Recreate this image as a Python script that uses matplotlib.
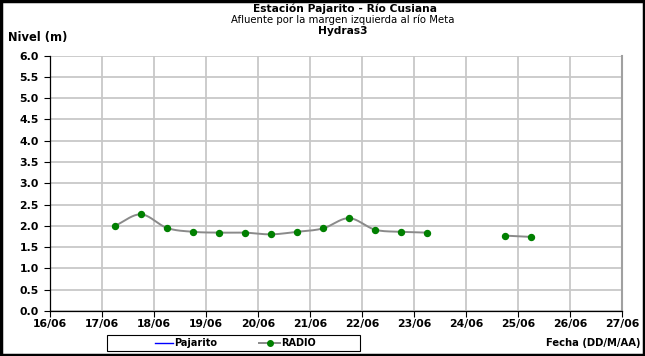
import numpy as np
import matplotlib.pyplot as plt
from matplotlib.lines import Line2D
from matplotlib.patches import Rectangle

plt.rcParams['font.family'] = ['DejaVu Sans']

# days since 16/06 (readings at 06:00 and 18:00), gaps split the series
radio_days = [
    [17.25, 17.75, 18.25, 18.75, 19.25, 19.75, 20.25, 20.75, 21.25, 21.75, 22.25, 22.75, 23.25],
    [24.75, 25.25],
]
radio_level = [
    [2.00, 2.27, 1.95, 1.86, 1.84, 1.84, 1.80, 1.86, 1.94, 2.18, 1.91, 1.86, 1.84],
    [1.77, 1.74],
]
x_ticks = list(range(16, 28))
x_labels = ["%02d/06" % d for d in x_ticks]
y_ticks = np.arange(0, 6.01, 0.5)


def smooth(x, y, n=20):
    # Catmull-Rom style smoothing, like Excel's smoothed line
    x = np.asarray(x, float)
    y = np.asarray(y, float)
    if len(x) < 3:
        return x, y
    px = np.concatenate([[2 * x[0] - x[1]], x, [2 * x[-1] - x[-2]]])
    py = np.concatenate([[2 * y[0] - y[1]], y, [2 * y[-1] - y[-2]]])
    xs, ys = [], []
    t = np.linspace(0, 1, n, endpoint=False)
    for i in range(1, len(px) - 2):
        for p, out in ((px, xs), (py, ys)):
            p0, p1, p2, p3 = p[i - 1], p[i], p[i + 1], p[i + 2]
            out.extend(0.5 * (2 * p1 + (-p0 + p2) * t
                              + (2 * p0 - 5 * p1 + 4 * p2 - p3) * t ** 2
                              + (-p0 + 3 * p1 - 3 * p2 + p3) * t ** 3))
    xs.append(x[-1])
    ys.append(y[-1])
    return np.array(xs), np.array(ys)


fig = plt.figure(figsize=(6.45, 3.56), dpi=100)
ax = fig.add_axes([0.0775, 0.1264, 0.887, 0.7177])

for xd, yd in zip(radio_days, radio_level):
    sx, sy = smooth(xd, yd)
    ax.plot(sx, sy, color="#8a8a8a", lw=1.4, zorder=3)
    ax.plot(xd, yd, 'o', color="#008000", ms=4.3, zorder=4)

ax.set_xlim(16, 27)
ax.set_ylim(0, 6)
ax.set_xticks(x_ticks)
ax.set_xticklabels(x_labels)
ax.set_yticks(y_ticks)
ax.set_yticklabels(["%.1f" % v for v in y_ticks])
ax.grid(True, color="#c8c8c8", lw=1.3)
ax.set_axisbelow(True)
ax.tick_params(labelsize=7.8, length=4, width=0.8, direction='out')
ax.tick_params(axis='y', pad=4)
ax.tick_params(axis='x', pad=1.5)
for lab in ax.get_xticklabels() + ax.get_yticklabels():
    lab.set_fontweight('bold')
ax.spines['top'].set_visible(False)
ax.spines['right'].set_color("#a0a0a0")
ax.spines['right'].set_linewidth(1.5)
ax.spines['left'].set_linewidth(0.9)
ax.spines['bottom'].set_linewidth(0.9)

fig.text(345 / 645, 1 - 8.5 / 356, "Estación Pajarito - Río Cusiana", ha='center', va='center',
         fontsize=7.7, fontweight='bold')
fig.text(343 / 645, 1 - 19.5 / 356, "Afluente por la margen izquierda al río Meta", ha='center',
         va='center', fontsize=7.3)
fig.text(343 / 645, 1 - 30.5 / 356, "Hydras3", ha='center', va='center', fontsize=7.7,
         fontweight='bold')
fig.text(8 / 645, 1 - 37 / 356, "Nivel (m)", ha='left', va='center', fontsize=8.3,
         fontweight='bold')
fig.text(641 / 645, 1 - 343 / 356, "Fecha (DD/M/AA)", ha='right', va='center', fontsize=7.2,
         fontweight='bold')

# legend drawn by hand to get Excel's wide, flat box
W, H = 645.0, 356.0
ly = 1 - 343 / H
fig.patches.append(Rectangle((107 / W, 1 - 351 / H), 253 / W, 16 / H, transform=fig.transFigure,
                             fill=True, facecolor='white', edgecolor='black', lw=0.8))
fig.add_artist(Line2D([155 / W, 173 / W], [ly, ly], color="#0000ff", lw=1,
                      transform=fig.transFigure))
fig.text(174 / W, ly, "Pajarito", ha='left', va='center', fontsize=7, fontweight='bold')
fig.add_artist(Line2D([259 / W, 280 / W], [ly, ly], color="#8a8a8a", lw=1.4,
                      transform=fig.transFigure))
fig.add_artist(Line2D([270 / W], [ly], marker='o', color="#008000", ms=4,
                      transform=fig.transFigure))
fig.text(281 / W, ly, "RADIO", ha='left', va='center', fontsize=7, fontweight='bold')

fig.patches.append(Rectangle((0.002, 0.003), 0.996, 0.994, transform=fig.transFigure,
                             fill=False, edgecolor='black', lw=2.5))

fig.savefig("out.png", dpi=100)
